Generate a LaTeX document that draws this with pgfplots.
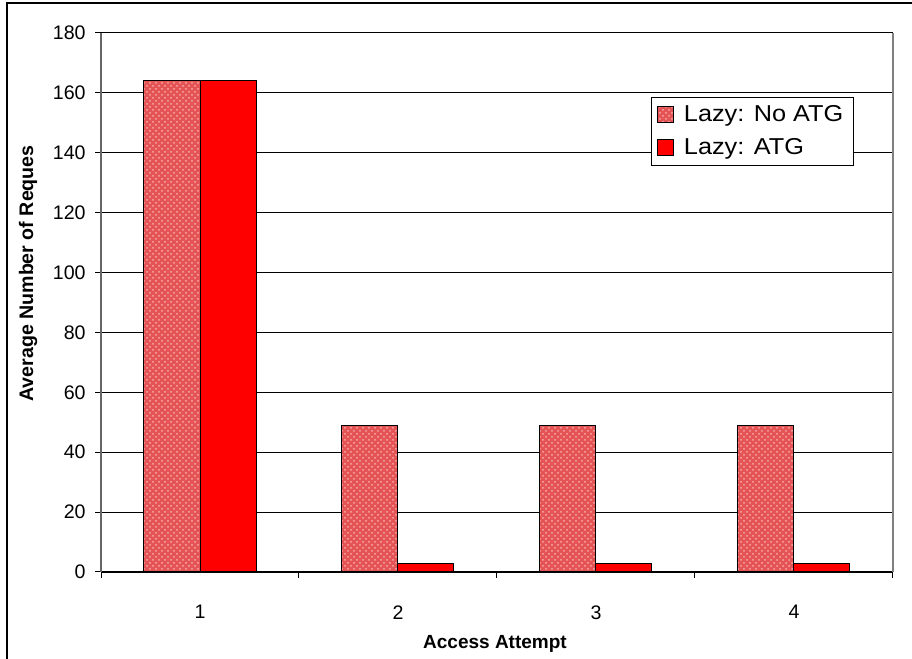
\documentclass[border=0pt]{standalone}
\usepackage{fontspec}
\setmainfont{Liberation Sans}
\usepackage{pgfplots}
\pgfplotsset{compat=1.18}
\usetikzlibrary{patterns}
\definecolor{patred}{RGB}{228,84,84}
\definecolor{patlight}{RGB}{250,170,170}
\definecolor{solidred}{RGB}{255,0,0}
\begin{document}
\begin{tikzpicture}
\useasboundingbox (0,0) rectangle (456pt,329.5pt);
\draw[black, line width=0.6pt] (3.5pt,0) -- (3.5pt,328pt) -- (456pt,328pt);
\begin{axis}[
 at={(50.5pt,43.5pt)}, anchor=south west,
 scale only axis, width=396pt, height=269.5pt,
 ybar=0pt, bar width=28pt,
 xmin=0.5, xmax=4.5, ymin=0, ymax=180,
 ytick={0,20,...,180},
 xtick={1,2,3,4},
 minor xtick={0.5,1.5,2.5,3.5,4.5},
 ymajorgrids, major grid style={black, line width=0.5pt},
 axis x line*=bottom, axis y line*=left,
 x axis line style={black, line width=0.6pt, -},
 y axis line style={black!60, line width=0.6pt, -},
 tick align=outside,
 major tick length=3pt, minor tick length=3pt,
 tick style={black, line width=0.5pt},
 major x tick style={draw=none},
 minor x tick style={black, line width=0.5pt},
 /pgf/number format/assume math mode=true,
 tick label style={font=\fontsize{9.8}{11}\selectfont},
 yticklabel style={anchor=east, inner sep=0pt, xshift=-4.5pt},
 xticklabel style={anchor=north, inner sep=0pt, yshift=-13.5pt},
 legend style={at={(0.694,0.882)}, anchor=north west, draw=black, line width=0.5pt,
   fill=white, font=\fontsize{11.5}{13}\selectfont, inner xsep=3pt, inner ysep=2pt,
   row sep=3pt, cells={anchor=west}},
 legend image code/.code={\draw[#1, line width=0.4pt] (0pt,-4pt) rectangle (8pt,4pt);},
]
\addplot[draw=black, line width=0.5pt, fill=patred,
  postaction={pattern=crosshatch dots, pattern color=patlight}]
  coordinates {(1,164) (2,49) (3,49) (4,49)};
\addplot[draw=black, line width=0.5pt, fill=solidred]
  coordinates {(1,164) (2,3) (3,3) (4,3)};
\legend{\hspace{3pt}\scalebox{1.1}[1]{Lazy: No ATG},\hspace{3pt}\scalebox{1.1}[1]{Lazy: ATG}}
\end{axis}
\draw[black!50, line width=0.6pt] (446.5pt,43.5pt) -- (446.5pt,313pt);
\node[rotate=90, anchor=west, inner sep=0pt, font=\bfseries\fontsize{9.8}{12}\selectfont] at (14pt,128.5pt) {Average Number of Reques};
\node[inner sep=0pt, font=\bfseries\fontsize{9.5}{12}\selectfont] at (247.5pt,7.5pt) {Access Attempt};
\end{tikzpicture}
\end{document}
